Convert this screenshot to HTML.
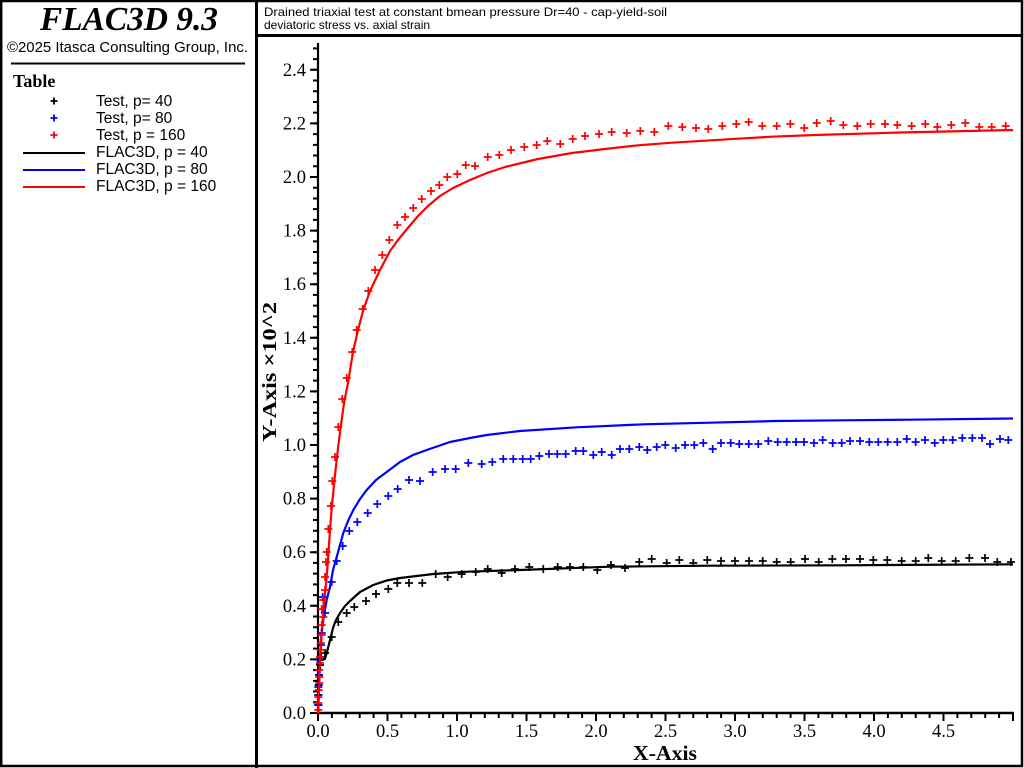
<!DOCTYPE html>
<html><head><meta charset="utf-8"><style>
html,body{margin:0;padding:0;background:#fff;}
svg{display:block;}
</style></head><body>
<svg width="1024" height="768" viewBox="0 0 1024 768" xmlns="http://www.w3.org/2000/svg">
<defs>
<marker id="mk" markerWidth="10" markerHeight="10" refX="5" refY="5" markerUnits="userSpaceOnUse" overflow="visible"><path d="M1 5H9M5 1V9" stroke="#000" stroke-width="1.7" fill="none"/></marker>
<marker id="mb" markerWidth="10" markerHeight="10" refX="5" refY="5" markerUnits="userSpaceOnUse" overflow="visible"><path d="M1 5H9M5 1V9" stroke="#0000ff" stroke-width="1.7" fill="none"/></marker>
<marker id="mr" markerWidth="10" markerHeight="10" refX="5" refY="5" markerUnits="userSpaceOnUse" overflow="visible"><path d="M1 5H9M5 1V9" stroke="#ff0000" stroke-width="1.7" fill="none"/></marker>
</defs>
<rect x="0" y="0" width="1024" height="768" fill="#fff"/>
<!-- frame -->
<rect x="1.2" y="1" width="1020.8" height="765" fill="none" stroke="#000" stroke-width="2.5"/>
<line x1="256.5" y1="0" x2="256.5" y2="768" stroke="#000" stroke-width="3"/>
<line x1="256" y1="35.5" x2="1023" y2="35.5" stroke="#000" stroke-width="3"/>

<!-- left panel -->
<text x="40" y="30" font-family="Liberation Serif, serif" font-weight="bold" font-style="italic" font-size="34" textLength="178" lengthAdjust="spacingAndGlyphs">FLAC3D 9.3</text>
<text x="7" y="52" font-family="Liberation Sans, sans-serif" font-size="15" textLength="241" lengthAdjust="spacingAndGlyphs">©2025 Itasca Consulting Group, Inc.</text>
<line x1="11" y1="63.5" x2="245" y2="63.5" stroke="#000" stroke-width="2"/>
<text x="13" y="87" font-family="Liberation Serif, serif" font-weight="bold" font-size="18">Table</text>
<g font-family="Liberation Sans, sans-serif" font-size="15.5" fill="#000">
<text x="96" y="106">Test, p= 40</text>
<text x="96" y="123">Test, p= 80</text>
<text x="96" y="140">Test, p = 160</text>
<text x="96" y="157">FLAC3D, p = 40</text>
<text x="96" y="174">FLAC3D, p = 80</text>
<text x="96" y="191">FLAC3D, p = 160</text>
</g>
<path d="M50.5 101H57.5M54 97.5V104.5" stroke="#000" stroke-width="1.8"/>
<path d="M50.5 118H57.5M54 114.5V121.5" stroke="#0000ff" stroke-width="1.8"/>
<path d="M50.5 135H57.5M54 131.5V138.5" stroke="#ff0000" stroke-width="1.8"/>
<line x1="23" y1="153" x2="85" y2="153" stroke="#000" stroke-width="2"/>
<line x1="23" y1="170" x2="85" y2="170" stroke="#0000ff" stroke-width="2"/>
<line x1="23" y1="187" x2="85" y2="187" stroke="#ff0000" stroke-width="2"/>

<!-- title -->
<text x="264" y="16" font-family="Liberation Sans, sans-serif" font-size="12" textLength="403" lengthAdjust="spacingAndGlyphs">Drained triaxial test at constant bmean pressure Dr=40 - cap-yield-soil</text>
<text x="264" y="29" font-family="Liberation Sans, sans-serif" font-size="12">deviatoric stress vs. axial strain</text>

<!-- axes -->
<line x1="318" y1="43" x2="318" y2="714" stroke="#000" stroke-width="2.2"/>
<line x1="317" y1="713" x2="1014" y2="713" stroke="#000" stroke-width="2.6"/>
<!-- y minor ticks -->
<line x1="315.5" y1="714" x2="315.5" y2="43" stroke="#000" stroke-width="5" stroke-dasharray="2 8.72"/>
<!-- y major ticks -->
<line x1="314" y1="714" x2="314" y2="60" stroke="#000" stroke-width="8" stroke-dasharray="2 51.6"/>
<!-- x minor ticks -->
<line x1="317" y1="715.5" x2="1014" y2="715.5" stroke="#000" stroke-width="5" stroke-dasharray="2 11.9"/>
<!-- x major ticks -->
<line x1="317" y1="717" x2="1014" y2="717" stroke="#000" stroke-width="8" stroke-dasharray="2 67.5"/>

<g font-family="Liberation Serif, serif" font-size="18.5" text-anchor="end" fill="#000">
<text x="306" y="719">0.0</text>
<text x="306" y="665.4">0.2</text>
<text x="306" y="611.8">0.4</text>
<text x="306" y="558.2">0.6</text>
<text x="306" y="504.6">0.8</text>
<text x="306" y="451">1.0</text>
<text x="306" y="397.4">1.2</text>
<text x="306" y="343.8">1.4</text>
<text x="306" y="290.2">1.6</text>
<text x="306" y="236.6">1.8</text>
<text x="306" y="183">2.0</text>
<text x="306" y="129.4">2.2</text>
<text x="306" y="75.8">2.4</text>
</g>
<g font-family="Liberation Serif, serif" font-size="18.5" text-anchor="middle" fill="#000">
<text x="318" y="737">0.0</text>
<text x="387.5" y="737">0.5</text>
<text x="457" y="737">1.0</text>
<text x="526.5" y="737">1.5</text>
<text x="596" y="737">2.0</text>
<text x="665.5" y="737">2.5</text>
<text x="735" y="737">3.0</text>
<text x="804.5" y="737">3.5</text>
<text x="874" y="737">4.0</text>
<text x="943.5" y="737">4.5</text>
</g>
<text x="665" y="760" text-anchor="middle" font-family="Liberation Serif, serif" font-weight="bold" font-size="21" textLength="64" lengthAdjust="spacingAndGlyphs">X-Axis</text>
<text transform="translate(276,372) rotate(-90)" text-anchor="middle" font-family="Liberation Serif, serif" font-weight="bold" font-size="20" textLength="140" lengthAdjust="spacingAndGlyphs">Y-Axis ×10^2</text>

<!-- FLAC3D lines -->
<polyline fill="none" stroke="#000" stroke-width="2.2" stroke-linejoin="round" points="318,713 318.5,700 319,665 320,660 325,659 327,652 330,640 333.3,627 336,620 340,613 345,606 350,601 360,592 373.3,585 386.7,580.5 400,578 433.3,574 466.7,571.7 520,570 610,566.7 710,565.7 843,565.3 1013,564.3"/>
<polyline fill="none" stroke="#0000ff" stroke-width="2.2" stroke-linejoin="round" points="318,713 319,690 320,660 321,640 322,630 324,615 326.7,600 330,587 333,570 336.7,557 340,545 343.3,533 348,521 353.3,510 360,499 366.7,490 376,480 386.7,472 400,462 413,455 426.7,450 450,442 470,438 486.7,435 520,431 576.7,427.3 643.3,424.3 710,422.7 776.7,421 843.3,420.3 910,419.7 1013,418.5"/>
<polyline fill="none" stroke="#ff0000" stroke-width="2.2" stroke-linejoin="round" points="318,713 319,685 320,660 322,628 324,603 326,585 328,560 330,530 332,505 335,475 338,448 341,425 344,403 348,383 353,352 358,330 363,311 370,291 380,270 390,251 398,240 407,229 418,216 428,206 440,196 453,188 470,180 487,173 505,167 538,159 572,153 605,149 638,145.3 672,142.7 705,140.7 738,138.7 772,136.7 815,135 900,132.5 1013,130"/>

<!-- Test markers -->
<polyline fill="none" stroke="none" marker-start="url(#mk)" marker-mid="url(#mk)" marker-end="url(#mk)" points="318.3,705 318.3,695 318.7,685 319,675 320,665 321,657 325,653 331.7,637 338.3,622 346.7,613 354.3,607 366,601 376,594 388.3,589 397.3,583 409,583 422.3,583 435.7,574 447.7,577 461.7,574 475.7,572 487.7,569 501.7,573 515,569 529.3,567 543.3,569 557.7,567 570,567 583.3,567 597.3,570 611,565 625,568 639.3,562 651.7,559 666.7,563 679.3,560 693.3,563 707.3,560 721,561 735,561 749,561 762.7,561 776.7,562 790.7,562 805,559 818.7,562 832.3,559 846,559 860,559 873.3,560 887.3,560 901.7,561 915.7,561 928.3,558 941.7,561 955.7,561 969.3,558 985,558 997.3,562 1011,562"/>
<polyline fill="none" stroke="none" marker-start="url(#mb)" marker-mid="url(#mb)" marker-end="url(#mb)" points="318.3,705 318.3,695 318.3,687 319,675 320,660 321,645 321.7,633 325,613 322.7,597 331.7,582 336.7,561 342.7,546 349.3,531 357.3,522 367.7,513 377.3,504 388.3,496 397.7,489 409,480 420,481 432.7,472 445,469 455.7,469 468.3,463 481.7,464 492.3,462 503.3,459 513.3,459 522.7,459 530.7,459 539.3,456 549,454 557.3,454 565.7,454 575.7,451 583.3,451 593.3,455 601.7,452 611.7,455 620,449 629.3,449 639.3,447 647.3,450 656.7,447 665.3,445 675.7,448 685,445 694.3,445 703.3,443 712.7,449 721,443 730.7,443 739.3,444 748.7,444 758.3,444 768.3,441 777.7,442 786.7,442 796,442 804,442 814,443 822.7,440 832.7,443 841.7,443 850,441 860,441 869.3,442 878.3,442 887.7,442 897.3,442 906.7,439 915.7,442 925,440 934.7,443 943.3,440 952.7,440 962.3,438 972.3,438 982,438 990,444 1000,439 1008.3,440"/>
<polyline fill="none" stroke="none" marker-start="url(#mr)" marker-mid="url(#mr)" marker-end="url(#mr)" points="318.3,710 318.3,703 318.3,697 318.7,690 319.3,683 319.3,677 319.3,670 320,663 320,657 320.7,650 320.7,643 321.7,635 321.7,625 323.3,617 321.7,609 323.3,600 325,590 325,577 326,562 326.7,552 328.3,529 331,506 332.3,481 335,457 338.3,427 342.3,399 346.7,378 352.3,352 356.7,330 362.7,309 368.3,291 375,270 382.3,255 389.3,240 397.3,225 405,217 413.3,208 421.7,199 431,191 439.3,185 447.3,177 457.3,174 465.7,165 475,166 487.7,157 499.3,155 511,150 524.3,147 536.7,145 547.3,141 560.3,144 572.7,139 585,136 599,134 611.7,132 626.7,133 640.3,131 654.3,132 668.3,126 682.3,127 696,128 708.3,129 722.3,126 736.3,124 748.7,122 762.3,126 776.7,126 790.3,124 804.3,128 816.7,123 830.7,121 843.3,125 857.3,126 870.7,124 885,124 897.3,125 911.7,126 925.3,124 937.3,127 951.3,125 965.3,123 979.3,127 991.7,127 1005.7,126"/>
</svg>
</body></html>
